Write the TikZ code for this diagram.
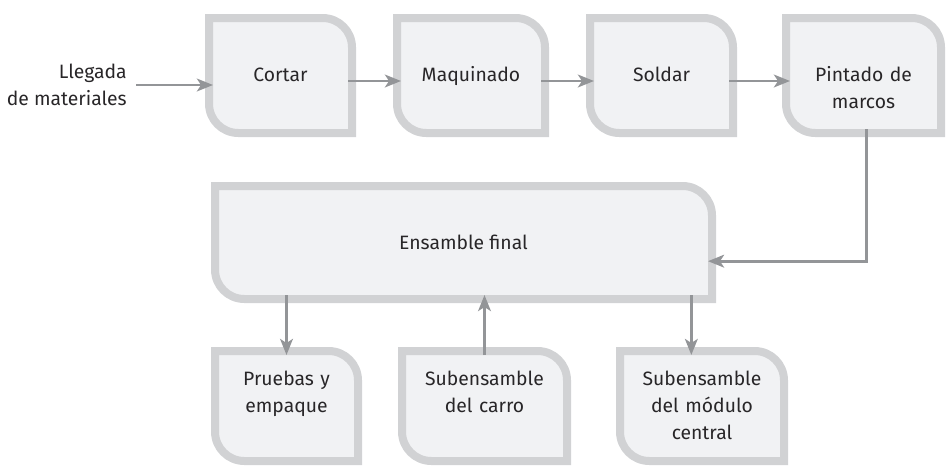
\documentclass[tikz,border=0pt]{standalone}
\usepackage{fontspec}
\setmainfont{Fira Sans}
\usetikzlibrary{arrows.meta,backgrounds}

\definecolor{framegray}{RGB}{209,210,212}
\definecolor{boxfill}{RGB}{241,242,244}
\definecolor{flowgray}{RGB}{147,149,152}
\definecolor{labelgray}{RGB}{40,38,40}

\begin{document}
\begin{tikzpicture}[
  x=0.75pt, y=-0.75pt,
  txt/.style={font=\fontsize{14.5}{20.25}\selectfont, text=labelgray},
  topstage/.style={txt, inner sep=0pt, outer sep=0pt, align=center,
                   text width=#1, text height=47.25pt, text depth=39pt},
  substage/.style={txt, inner sep=0pt, outer sep=0pt, align=center,
                   text width=#1, text height=25.5pt, text depth=57pt},
  frame/.style={draw=framegray, fill=boxfill, line width=6pt, line join=miter},
  flow/.style={draw=flowgray, line width=2.2pt,
               -{Stealth[length=12pt,width=9.5pt,inset=3pt]},
               shorten <=-3pt, shorten >=-3pt},
]
  \useasboundingbox (0,0) rectangle (946,465);

  % Input
  \node[txt, align=right, anchor=east, inner xsep=9.75pt] (llegada) at (140,85)
    {Llegada\\de materiales};

  % Top row
  \node[topstage=107.25pt] (cortar)    at (280.5,75.5) {Cortar};
  \node[topstage=111pt]    (maquinado) at (471,75.5)   {Maquinado};
  \node[topstage=107.25pt] (soldar)    at (661.5,75.5) {Soldar};
  \node[topstage=116.25pt] (pintado)   at (863.5,75.5) {Pintado de\\marcos};

  % Final assembly
  \node[txt, inner sep=0pt, outer sep=0pt, minimum width=372.75pt,
        minimum height=84.75pt] (ensamble) at (463.5,242.5) {Ensamble final};

  % Bottom row
  \node[substage=107.25pt] (pruebas) at (286.5,406) {Pruebas y\\empaque};
  \node[substage=123.75pt] (carro)   at (484.5,406) {Subensamble\\del carro};
  \node[substage=123pt]    (modulo)  at (702,406)   {Subensamble\\del módulo\\central};

  % Box outlines
  \begin{scope}[on background layer]
    \foreach \n in {cortar,maquinado,soldar,pintado,ensamble,pruebas,carro,modulo}
      \draw[frame] (\n.north west) -- ([xshift=-22pt]\n.north east)
        arc[start angle=90, end angle=0, radius=22pt] -- (\n.south east)
        -- ([xshift=22pt]\n.south west)
        arc[start angle=270, end angle=180, radius=22pt] -- cycle;
  \end{scope}

  % Flow
  \draw[flow] (llegada.east) -- (llegada.east -| cortar.west);
  \draw[flow] (cortar.base east) -- (maquinado.base west);
  \draw[flow] (maquinado.base east) -- (soldar.base west);
  \draw[flow] (soldar.base east) -- (pintado.base west);
  \draw[flow] ([xshift=2.5pt]pintado.south) |- ([yshift=-14pt]ensamble.east);
  \draw[flow] (ensamble.south -| pruebas.north) -- (pruebas.north);
  \draw[flow] (carro.north) -- (carro.north |- ensamble.south);
  \draw[flow] ([xshift=-8pt]modulo.north |- ensamble.south) -- ([xshift=-8pt]modulo.north);
\end{tikzpicture}
\end{document}
